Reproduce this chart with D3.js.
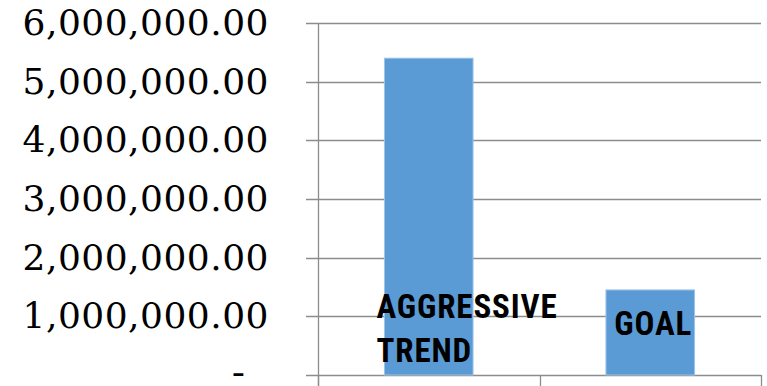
<!DOCTYPE html>
<html>
<head>
<meta charset="utf-8">
<script src="https://cdn.jsdelivr.net/npm/d3@7/dist/d3.min.js"></script>
<style>
  html, body { margin: 0; padding: 0; background: #fff; }
  svg { display: block; }
</style>
</head>
<body>
<svg id="chart" width="767" height="386"></svg>
<script>
// Chart data
const categories = ["AGGRESSIVE TREND", "GOAL"];
const values = [5400000, 1450000];
const labelLines = [["AGGRESSIVE", "TREND"], ["GOAL"]];
const yTicks = [0, 1000000, 2000000, 3000000, 4000000, 5000000, 6000000];

const W = 767, H = 386;
const margin = { top: 23, right: 6, bottom: 11, left: 318 };
const svg = d3.select("#chart");

const x = d3.scaleBand()
  .domain(categories)
  .range([margin.left, W - margin.right])
  .paddingInner(0.6)
  .paddingOuter(0.3);

const y = d3.scaleLinear()
  .domain([0, 6000000])
  .range([H - margin.bottom, margin.top]);

const gridColor = "#8c8c8c";
const fmt = d3.format(",.2f");

// Horizontal gridlines with left tick stubs
svg.append("g")
  .selectAll("line")
  .data(yTicks)
  .join("line")
  .attr("x1", margin.left - 12)
  .attr("x2", W - margin.right)
  .attr("y1", d => Math.round(y(d)) + 0.5)
  .attr("y2", d => Math.round(y(d)) + 0.5)
  .attr("stroke", gridColor)
  .attr("stroke-width", 1.3);

// Value axis labels (zero shown as a dash)
const serif = "'DejaVu Serif', 'Liberation Serif', serif";
svg.append("g")
  .selectAll("text")
  .data(yTicks.filter(d => d !== 0))
  .join("text")
  .attr("x", 269)
  .attr("y", d => y(d))
  .attr("dy", "0.33em")
  .attr("text-anchor", "end")
  .attr("font-family", serif)
  .attr("font-size", 36)
  .attr("letter-spacing", 0.5)
  .attr("fill", "#000")
  .text(d => fmt(d));

// Zero label: a widened dash
svg.append("text")
  .attr("transform", `translate(245,${y(0) - 1}) scale(1.6,1)`)
  .attr("dy", "0.3em")
  .attr("text-anchor", "end")
  .attr("font-family", serif)
  .attr("font-size", 20)
  .attr("font-weight", "bold")
  .attr("fill", "#000")
  .text("-");

// Vertical value axis line
svg.append("line")
  .attr("x1", margin.left + 0.5).attr("x2", margin.left + 0.5)
  .attr("y1", y(6000000)).attr("y2", H)
  .attr("stroke", gridColor)
  .attr("stroke-width", 1.3);

// Category separators below the baseline
const catTicks = d3.range(categories.length + 1)
  .map(i => margin.left + i * (W - margin.right - margin.left) / categories.length);
svg.append("g")
  .selectAll("line")
  .data(catTicks)
  .join("line")
  .attr("x1", d => Math.round(d) + 0.5)
  .attr("x2", d => Math.round(d) + 0.5)
  .attr("y1", y(0))
  .attr("y2", H)
  .attr("stroke", gridColor)
  .attr("stroke-width", 1.3);

// Bars
svg.append("g")
  .selectAll("rect")
  .data(categories)
  .join("rect")
  .attr("x", d => x(d))
  .attr("y", (d, i) => y(values[i]))
  .attr("width", x.bandwidth())
  .attr("height", (d, i) => y(0) - y(values[i]))
  .attr("fill", "#5b9bd5")
  .attr("stroke", "#9dc3e6")
  .attr("stroke-width", 1);

// Category labels drawn over the bars
const labelFont = "'Liberation Sans Narrow', 'Arial Narrow', 'Roboto Condensed', sans-serif";
const lab = svg.append("g")
  .attr("font-family", labelFont)
  .attr("font-stretch", "condensed")
  .attr("font-weight", "bold")
  .attr("font-size", 33)
  .attr("letter-spacing", 0.9)
  .attr("fill", "#000");
// First category: left-aligned two-line label near the bar base
lab.selectAll("text.l1")
  .data(labelLines[0])
  .join("text")
  .attr("class", "l1")
  .attr("x", x(categories[0]) - 8)
  .attr("y", (d, i) => y(0) - 57 + i * 44)
  .text(d => d);
// Second category: centred on its bar
lab.append("text")
  .attr("x", x(categories[1]) + x.bandwidth() / 2 + 3)
  .attr("y", y(0) - 40)
  .attr("text-anchor", "middle")
  .text(labelLines[1][0]);
</script>
</body>
</html>
